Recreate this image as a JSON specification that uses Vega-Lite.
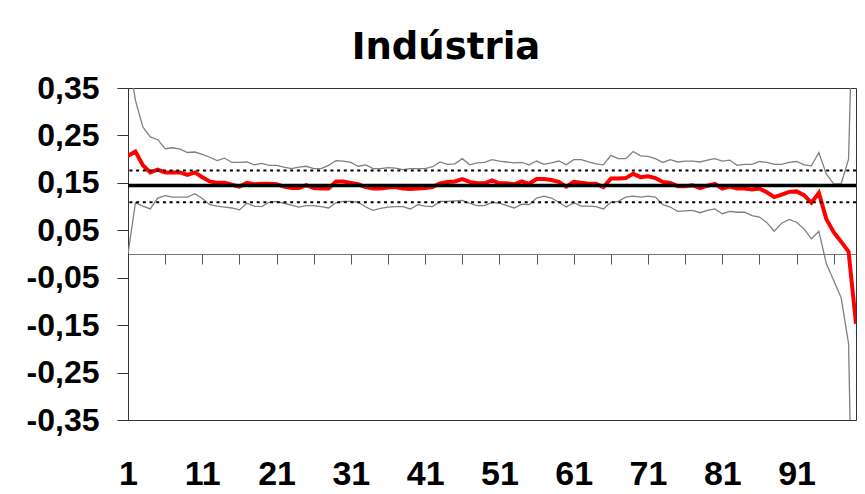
{
  "$schema": "https://vega.github.io/schema/vega-lite/v6.json",
  "width": 728,
  "height": 332,
  "autosize": {"type": "none"},
  "padding": {"left": 128, "top": 88, "right": 9, "bottom": 74},
  "background": "white",
  "title": {
    "text": "Indústria",
    "font": "DejaVu Sans",
    "fontSize": 37,
    "fontWeight": "bold",
    "color": "black",
    "anchor": "middle",
    "frame": "group",
    "dx": -46,
    "dy": -5,
    "offset": 0
  },
  "config": {
    "view": {"stroke": "#333333", "strokeWidth": 1},
    "axis": {"grid": false}
  },
  "datasets": {
    "serie": [
      {"t": 1, "est": 0.207, "sup": 0.42, "inf": 0.0},
      {"t": 2, "est": 0.216, "sup": 0.324, "inf": 0.108},
      {"t": 3, "est": 0.187, "sup": 0.268, "inf": 0.101},
      {"t": 4, "est": 0.172, "sup": 0.247, "inf": 0.095},
      {"t": 5, "est": 0.178, "sup": 0.241, "inf": 0.118},
      {"t": 6, "est": 0.172, "sup": 0.222, "inf": 0.123},
      {"t": 7, "est": 0.172, "sup": 0.224, "inf": 0.120},
      {"t": 8, "est": 0.172, "sup": 0.221, "inf": 0.120},
      {"t": 9, "est": 0.167, "sup": 0.214, "inf": 0.120},
      {"t": 10, "est": 0.172, "sup": 0.215, "inf": 0.127},
      {"t": 11, "est": 0.162, "sup": 0.210, "inf": 0.117},
      {"t": 12, "est": 0.153, "sup": 0.204, "inf": 0.104},
      {"t": 13, "est": 0.150, "sup": 0.197, "inf": 0.101},
      {"t": 14, "est": 0.150, "sup": 0.202, "inf": 0.099},
      {"t": 15, "est": 0.146, "sup": 0.193, "inf": 0.097},
      {"t": 16, "est": 0.142, "sup": 0.193, "inf": 0.093},
      {"t": 17, "est": 0.150, "sup": 0.194, "inf": 0.107},
      {"t": 18, "est": 0.147, "sup": 0.188, "inf": 0.101},
      {"t": 19, "est": 0.148, "sup": 0.191, "inf": 0.100},
      {"t": 20, "est": 0.148, "sup": 0.187, "inf": 0.109},
      {"t": 21, "est": 0.147, "sup": 0.187, "inf": 0.111},
      {"t": 22, "est": 0.142, "sup": 0.183, "inf": 0.107},
      {"t": 23, "est": 0.139, "sup": 0.180, "inf": 0.103},
      {"t": 24, "est": 0.139, "sup": 0.183, "inf": 0.099},
      {"t": 25, "est": 0.145, "sup": 0.185, "inf": 0.102},
      {"t": 26, "est": 0.139, "sup": 0.180, "inf": 0.102},
      {"t": 27, "est": 0.138, "sup": 0.180, "inf": 0.100},
      {"t": 28, "est": 0.138, "sup": 0.187, "inf": 0.097},
      {"t": 29, "est": 0.153, "sup": 0.197, "inf": 0.108},
      {"t": 30, "est": 0.153, "sup": 0.196, "inf": 0.111},
      {"t": 31, "est": 0.150, "sup": 0.193, "inf": 0.111},
      {"t": 32, "est": 0.147, "sup": 0.185, "inf": 0.109},
      {"t": 33, "est": 0.141, "sup": 0.188, "inf": 0.099},
      {"t": 34, "est": 0.138, "sup": 0.180, "inf": 0.092},
      {"t": 35, "est": 0.138, "sup": 0.180, "inf": 0.096},
      {"t": 36, "est": 0.140, "sup": 0.182, "inf": 0.099},
      {"t": 37, "est": 0.141, "sup": 0.181, "inf": 0.100},
      {"t": 38, "est": 0.138, "sup": 0.178, "inf": 0.100},
      {"t": 39, "est": 0.137, "sup": 0.180, "inf": 0.095},
      {"t": 40, "est": 0.138, "sup": 0.180, "inf": 0.104},
      {"t": 41, "est": 0.139, "sup": 0.180, "inf": 0.101},
      {"t": 42, "est": 0.141, "sup": 0.184, "inf": 0.100},
      {"t": 43, "est": 0.149, "sup": 0.194, "inf": 0.111},
      {"t": 44, "est": 0.152, "sup": 0.189, "inf": 0.111},
      {"t": 45, "est": 0.153, "sup": 0.190, "inf": 0.112},
      {"t": 46, "est": 0.158, "sup": 0.201, "inf": 0.113},
      {"t": 47, "est": 0.152, "sup": 0.188, "inf": 0.107},
      {"t": 48, "est": 0.149, "sup": 0.192, "inf": 0.102},
      {"t": 49, "est": 0.149, "sup": 0.193, "inf": 0.102},
      {"t": 50, "est": 0.155, "sup": 0.199, "inf": 0.109},
      {"t": 51, "est": 0.149, "sup": 0.196, "inf": 0.107},
      {"t": 52, "est": 0.149, "sup": 0.194, "inf": 0.102},
      {"t": 53, "est": 0.147, "sup": 0.192, "inf": 0.097},
      {"t": 54, "est": 0.153, "sup": 0.193, "inf": 0.105},
      {"t": 55, "est": 0.148, "sup": 0.188, "inf": 0.104},
      {"t": 56, "est": 0.158, "sup": 0.196, "inf": 0.118},
      {"t": 57, "est": 0.158, "sup": 0.189, "inf": 0.122},
      {"t": 58, "est": 0.156, "sup": 0.192, "inf": 0.118},
      {"t": 59, "est": 0.152, "sup": 0.196, "inf": 0.109},
      {"t": 60, "est": 0.142, "sup": 0.188, "inf": 0.099},
      {"t": 61, "est": 0.152, "sup": 0.199, "inf": 0.108},
      {"t": 62, "est": 0.150, "sup": 0.199, "inf": 0.101},
      {"t": 63, "est": 0.148, "sup": 0.194, "inf": 0.101},
      {"t": 64, "est": 0.148, "sup": 0.190, "inf": 0.100},
      {"t": 65, "est": 0.141, "sup": 0.188, "inf": 0.095},
      {"t": 66, "est": 0.159, "sup": 0.208, "inf": 0.109},
      {"t": 67, "est": 0.159, "sup": 0.201, "inf": 0.111},
      {"t": 68, "est": 0.160, "sup": 0.201, "inf": 0.120},
      {"t": 69, "est": 0.169, "sup": 0.216, "inf": 0.122},
      {"t": 70, "est": 0.162, "sup": 0.207, "inf": 0.120},
      {"t": 71, "est": 0.164, "sup": 0.206, "inf": 0.122},
      {"t": 72, "est": 0.160, "sup": 0.201, "inf": 0.120},
      {"t": 73, "est": 0.152, "sup": 0.193, "inf": 0.104},
      {"t": 74, "est": 0.150, "sup": 0.199, "inf": 0.099},
      {"t": 75, "est": 0.143, "sup": 0.194, "inf": 0.090},
      {"t": 76, "est": 0.143, "sup": 0.196, "inf": 0.091},
      {"t": 77, "est": 0.145, "sup": 0.196, "inf": 0.092},
      {"t": 78, "est": 0.139, "sup": 0.194, "inf": 0.087},
      {"t": 79, "est": 0.144, "sup": 0.198, "inf": 0.092},
      {"t": 80, "est": 0.148, "sup": 0.201, "inf": 0.095},
      {"t": 81, "est": 0.138, "sup": 0.196, "inf": 0.085},
      {"t": 82, "est": 0.142, "sup": 0.198, "inf": 0.090},
      {"t": 83, "est": 0.138, "sup": 0.187, "inf": 0.088},
      {"t": 84, "est": 0.138, "sup": 0.189, "inf": 0.088},
      {"t": 85, "est": 0.136, "sup": 0.189, "inf": 0.081},
      {"t": 86, "est": 0.138, "sup": 0.195, "inf": 0.078},
      {"t": 87, "est": 0.130, "sup": 0.193, "inf": 0.066},
      {"t": 88, "est": 0.120, "sup": 0.189, "inf": 0.048},
      {"t": 89, "est": 0.125, "sup": 0.189, "inf": 0.065},
      {"t": 90, "est": 0.131, "sup": 0.193, "inf": 0.073},
      {"t": 91, "est": 0.132, "sup": 0.195, "inf": 0.067},
      {"t": 92, "est": 0.124, "sup": 0.188, "inf": 0.053},
      {"t": 93, "est": 0.108, "sup": 0.186, "inf": 0.032},
      {"t": 94, "est": 0.129, "sup": 0.214, "inf": 0.048},
      {"t": 95, "est": 0.074, "sup": 0.169, "inf": -0.020},
      {"t": 96, "est": 0.046, "sup": 0.148, "inf": -0.056},
      {"t": 97, "est": 0.026, "sup": 0.148, "inf": -0.092},
      {"t": 98, "est": 0.005, "sup": 0.200, "inf": -0.189},
      {"t": 99, "est": -0.147, "sup": 0.80, "inf": -1.00}
    ],
    "referencias": [
      {"ref": "media", "v": 0.1446},
      {"ref": "limite superior", "v": 0.1763},
      {"ref": "limite inferior", "v": 0.1090}
    ]
  },
  "layer": [
    {
      "data": {"name": "serie"},
      "mark": {"type": "line", "color": "#808080", "strokeWidth": 1.3, "clip": true},
      "encoding": {
        "x": {
          "field": "t",
          "type": "quantitative",
          "scale": {"domain": [1, 99], "nice": false, "zero": false},
          "axis": {
            "orient": "bottom",
            "title": null,
            "values": [1, 11, 21, 31, 41, 51, 61, 71, 81, 91],
            "format": "d",
            "domain": false,
            "ticks": false,
            "tickSize": 0,
            "labelPadding": 37,
            "labelFont": "Liberation Sans",
            "labelFontSize": 34,
            "labelFontWeight": "bold",
            "labelColor": "black",
            "labelFlush": false,
            "labelOverlap": false
          }
        },
        "y": {
          "field": "sup",
          "type": "quantitative",
          "scale": {"domain": [-0.35, 0.35], "nice": false, "zero": false},
          "axis": {
            "title": null,
            "values": [-0.35, -0.25, -0.15, -0.05, 0.05, 0.15, 0.25, 0.35],
            "labelExpr": "replace(replace(format(datum.value, '.2f'), '.', ','), '−', '-')",
            "domainColor": "#333333",
            "tickColor": "#333333",
            "tickSize": 11,
            "labelPadding": 18,
            "labelFont": "Liberation Sans",
            "labelFontSize": 32,
            "labelFontWeight": "bold",
            "labelColor": "black",
            "labelFlush": false,
            "labelOverlap": false
          }
        }
      }
    },
    {
      "data": {"name": "serie"},
      "mark": {"type": "line", "color": "#808080", "strokeWidth": 1.3, "clip": true},
      "encoding": {
        "x": {
          "field": "t",
          "type": "quantitative",
          "axis": {
            "orient": "bottom",
            "offset": -166,
            "title": null,
            "values": [1, 6, 11, 16, 21, 26, 31, 36, 41, 46, 51, 56, 61, 66, 71, 76, 81, 86, 91, 96],
            "labels": false,
            "domainColor": "#7a7a7a",
            "tickColor": "#555555",
            "tickSize": 10
          }
        },
        "y": {"field": "inf", "type": "quantitative"}
      }
    },
    {
      "data": {"name": "serie"},
      "mark": {"type": "line", "color": "#ff0000", "strokeWidth": 4, "clip": true},
      "encoding": {
        "x": {"field": "t", "type": "quantitative", "axis": null},
        "y": {"field": "est", "type": "quantitative"}
      }
    },
    {
      "data": {"name": "referencias"},
      "transform": [{"filter": "datum.ref === 'media'"}],
      "mark": {"type": "rule", "color": "black", "strokeWidth": 3.5},
      "encoding": {"y": {"field": "v", "type": "quantitative"}}
    },
    {
      "data": {"name": "referencias"},
      "transform": [{"filter": "datum.ref !== 'media'"}],
      "mark": {"type": "rule", "color": "black", "strokeWidth": 2, "strokeDash": [3, 3.7]},
      "encoding": {"y": {"field": "v", "type": "quantitative"}}
    }
  ],
  "resolve": {"axis": {"x": "independent"}}
}
